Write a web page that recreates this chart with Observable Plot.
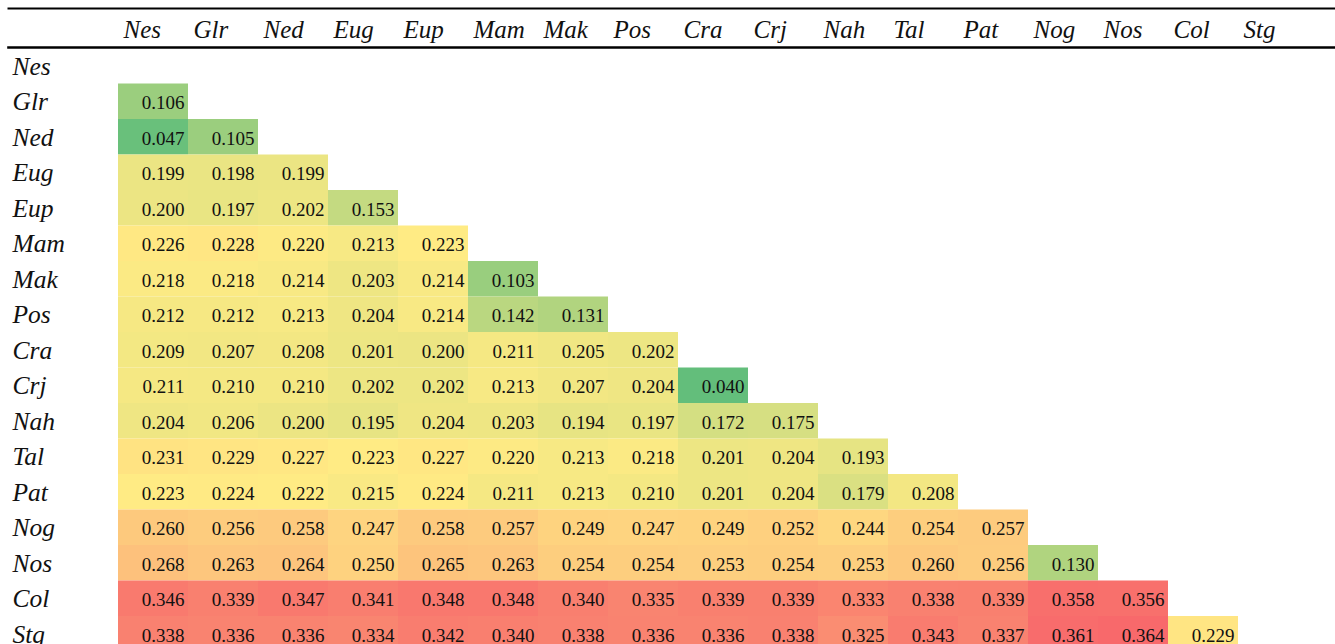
<!DOCTYPE html>
<html>
<head>
<meta charset="utf-8">
<script src="https://cdn.jsdelivr.net/npm/d3@7"></script>
<script src="https://cdn.jsdelivr.net/npm/@observablehq/plot@0.6"></script>
<style>
  html, body { margin: 0; padding: 0; background: #fff; overflow: hidden; }
  #chart svg, #chart svg text { font-family: "Liberation Serif", "Times New Roman", serif !important; }
  #chart svg text.hdr { letter-spacing: 2.2px; }
  #chart svg text.rowlab { letter-spacing: 1.4px; }
</style>
</head>
<body>
<div id="chart"></div>
<script>
const labels = ["Nes","Glr","Ned","Eug","Eup","Mam","Mak","Pos","Cra","Crj","Nah","Tal","Pat","Nog","Nos","Col","Stg"];

const rowGlr = [0.106];
const rowNed = [0.047, 0.105];
const rowEug = [0.199, 0.198, 0.199];
const rowEup = [0.200, 0.197, 0.202, 0.153];
const rowMam = [0.226, 0.228, 0.220, 0.213, 0.223];
const rowMak = [0.218, 0.218, 0.214, 0.203, 0.214, 0.103];
const rowPos = [0.212, 0.212, 0.213, 0.204, 0.214, 0.142, 0.131];
const rowCra = [0.209, 0.207, 0.208, 0.201, 0.200, 0.211, 0.205, 0.202];
const rowCrj = [0.211, 0.210, 0.210, 0.202, 0.202, 0.213, 0.207, 0.204, 0.040];
const rowNah = [0.204, 0.206, 0.200, 0.195, 0.204, 0.203, 0.194, 0.197, 0.172, 0.175];
const rowTal = [0.231, 0.229, 0.227, 0.223, 0.227, 0.220, 0.213, 0.218, 0.201, 0.204, 0.193];
const rowPat = [0.223, 0.224, 0.222, 0.215, 0.224, 0.211, 0.213, 0.210, 0.201, 0.204, 0.179, 0.208];
const rowNog = [0.260, 0.256, 0.258, 0.247, 0.258, 0.257, 0.249, 0.247, 0.249, 0.252, 0.244, 0.254, 0.257];
const rowNos = [0.268, 0.263, 0.264, 0.250, 0.265, 0.263, 0.254, 0.254, 0.253, 0.254, 0.253, 0.260, 0.256, 0.130];
const rowCol = [0.346, 0.339, 0.347, 0.341, 0.348, 0.348, 0.340, 0.335, 0.339, 0.339, 0.333, 0.338, 0.339, 0.358, 0.356];
const rowStg = [0.338, 0.336, 0.336, 0.334, 0.342, 0.340, 0.338, 0.336, 0.336, 0.338, 0.325, 0.343, 0.337, 0.361, 0.364, 0.229];

const rows = [[], rowGlr, rowNed, rowEug, rowEup, rowMam, rowMak, rowPos, rowCra, rowCrj, rowNah, rowTal, rowPat, rowNog, rowNos, rowCol, rowStg];

const data = [];
rows.forEach((vals, i) => vals.forEach((v, j) => data.push({row: labels[i], col: labels[j], value: v})));

const values = data.map(d => d.value);
const vmin = d3.min(values), vmed = d3.median(values), vmax = d3.max(values);

const serif = "Liberation Serif, Times New Roman, serif";
const colW = 70;
const rowH = 35.5;

const chart = Plot.plot({
  width: 1335,
  height: 644,
  marginTop: 48,
  marginLeft: 8,
  marginRight: 0,
  marginBottom: 0,
  style: {fontFamily: serif, background: "#fff", color: "#000"},
  x: {domain: labels, range: [118, 118 + colW * labels.length], padding: 0, round: false, axis: null},
  y: {domain: labels, range: [48, 48 + rowH * labels.length], padding: 0, round: false, axis: null},
  color: {type: "linear", domain: [vmin, vmed, vmax], range: ["#63BE7B", "#FFEB84", "#F8696B"], interpolate: "rgb"},
  marks: [
    Plot.cell(data, {x: "col", y: "row", fill: "value", inset: 0}),
    Plot.text(data, {x: "col", y: "row", text: d => d.value.toFixed(3), textAnchor: "end", lineAnchor: "middle", dx: colW / 2 - 4, dy: 1.2, fontSize: 19, fontFamily: serif, fill: "#111"}),
    Plot.text(labels, {x: d => d, frameAnchor: "top", text: d => d, textAnchor: "start", lineAnchor: "middle", dx: -colW / 2 + 5, dy: -18.3, fontSize: 25, fontFamily: serif, fontStyle: "italic", fill: "#111", className: "hdr"}),
    Plot.text(labels, {y: d => d, frameAnchor: "left", text: d => d, textAnchor: "start", lineAnchor: "middle", dx: 4, dy: 0.3, fontSize: 25.5, fontFamily: serif, fontStyle: "italic", fill: "#111", className: "rowlab"}),
    Plot.frame({anchor: "top", stroke: "#000", strokeWidth: 2.6, dy: -1}),
    Plot.frame({anchor: "top", stroke: "#000", strokeWidth: 2, dy: -40})
  ]
});
document.getElementById("chart").appendChild(chart);
</script>
</body>
</html>
